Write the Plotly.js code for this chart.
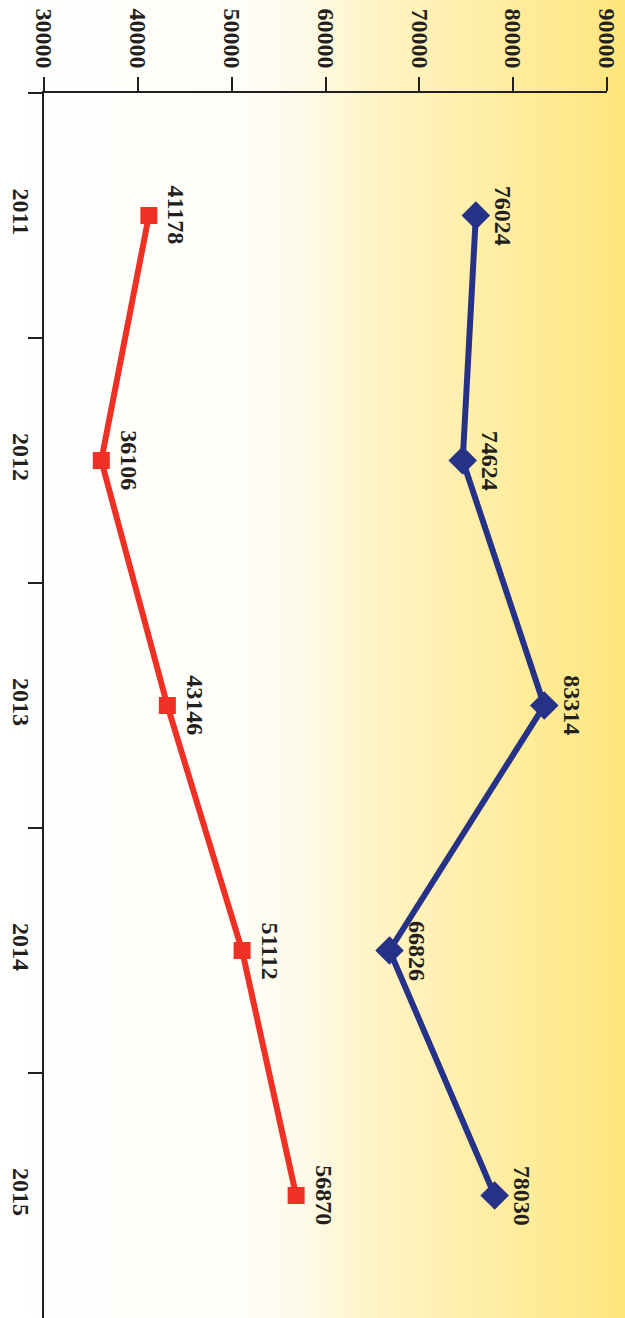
<!DOCTYPE html>
<html>
<head>
<meta charset="utf-8">
<script src="https://cdn.plot.ly/plotly-3.0.1.min.js"></script>
<style>
html,body{margin:0;padding:0;}
#chart{width:625px;height:1318px;background:linear-gradient(to right,#FFFFFF 0%,#FEFDF8 38%,#FDFAEA 48%,#FFF4C6 60%,#FFEEA6 78%,#FFE67C 100%);}
</style>
</head>
<body>
<div id="chart"></div>
<script>
var years = ['2011','2012','2013','2014','2015'];
var seriesBlue = [76024, 74624, 83314, 66826, 78030];
var seriesRed = [41178, 36106, 43146, 51112, 56870];
var valueTicks = [30000, 40000, 50000, 60000, 70000, 80000, 90000];

var blue = '#263287';
var red = '#EE3124';

var traces = [
  {x: seriesBlue, y: years, type: 'scatter', mode: 'lines+markers',
   line: {color: blue, width: 6}, marker: {symbol: 'diamond', size: 22, color: blue},
   cliponaxis: false, hoverinfo: 'x+y'},
  {x: seriesRed, y: years, type: 'scatter', mode: 'lines+markers',
   line: {color: red, width: 6}, marker: {symbol: 'square', size: 17, color: red},
   cliponaxis: false, hoverinfo: 'x+y'}
];

var serif = 'Liberation Serif, Times New Roman, serif';
var annFont = {family: serif, size: 24, color: '#231F20', weight: 'bold'};
var annotations = [];
function addLabels(vals) {
  vals.forEach(function (v, i) {
    annotations.push({x: v, y: i, xref: 'x', yref: 'y', text: '<b>' + v + '</b>',
      showarrow: false, textangle: 90, xshift: 28, yshift: 0, font: annFont});
  });
}
addLabels(seriesBlue);
addLabels(seriesRed);

var tickFont = {family: serif, size: 24, color: '#231F20', weight: 'bold'};

var layout = {
  width: 625, height: 1318,
  margin: {l: 44, r: 18, t: 93, b: 0, pad: 0},
  paper_bgcolor: 'rgba(0,0,0,0)',
  plot_bgcolor: 'rgba(0,0,0,0)',
  showlegend: false,
  xaxis: {
    side: 'top', range: [30000, 90000], tickvals: valueTicks,
    ticktext: valueTicks.map(String), tickangle: 90,
    showgrid: false, zeroline: false, showline: true, linecolor: '#231F20', linewidth: 2,
    ticks: 'outside', ticklen: 14, tickwidth: 2, tickcolor: '#231F20',
    tickfont: tickFont, fixedrange: true
  },
  yaxis: {
    type: 'category', categoryarray: years, range: [4.5, -0.5],
    tickangle: 90, showgrid: false, zeroline: false, showline: true,
    linecolor: '#231F20', linewidth: 2, ticks: 'outside', ticklen: 14, tickwidth: 2,
    tickcolor: '#231F20', tickson: 'boundaries', tickfont: tickFont, fixedrange: true
  },
  annotations: annotations
};

Plotly.newPlot('chart', traces, layout, {displayModeBar: false, staticPlot: true});
</script>
</body>
</html>
